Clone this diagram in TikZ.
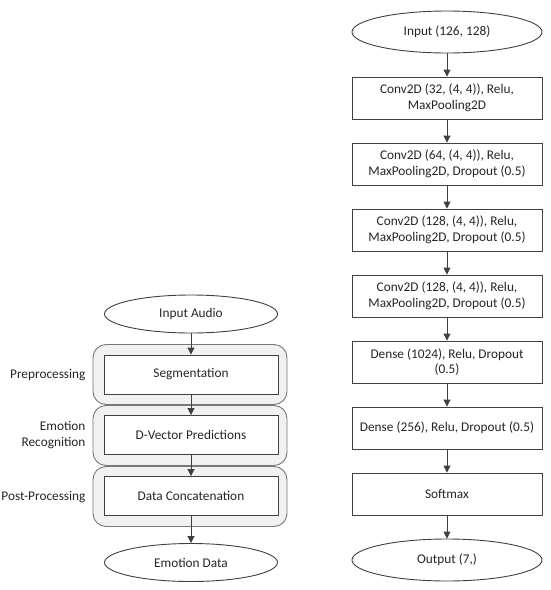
\documentclass[tikz,border=0pt]{standalone}
\usepackage{fontspec}
\setmainfont{Carlito}
\usetikzlibrary{positioning,arrows.meta,shapes.geometric}
\definecolor{linegray}{HTML}{404040}
\definecolor{groupgray}{HTML}{F1F1F1}
\definecolor{groupline}{HTML}{787878}
\tikzset{
  flowarrow/.style={-{Triangle[length=7pt,width=7pt]}, line width=0.9pt, linegray},
  layerbox/.style={draw=linegray, line width=0.9pt, fill=white, minimum width=190pt, minimum height=42pt, align=center, inner sep=2pt},
  layerellipse/.style={draw=linegray, line width=0.9pt, fill=white, ellipse, minimum width=190pt, minimum height=42pt, inner sep=0pt},
  stagebox/.style={draw=linegray, line width=0.9pt, fill=white, minimum width=174pt, minimum height=39pt, align=center},
  stageellipse/.style={draw=linegray, line width=0.9pt, fill=white, ellipse, minimum width=173pt, minimum height=38pt, inner sep=0pt},
  groupbox/.style={draw=groupline, line width=0.9pt, fill=groupgray, rounded corners=13pt, minimum width=194pt, minimum height=60pt},
  stagelabel/.style={anchor=east, align=right}
}

\begin{document}
\begin{tikzpicture}[x=1pt, y=-1pt, every node/.style={font=\fontsize{13.3}{15.5}\selectfont, text=black!85}]
      \useasboundingbox (0,0) rectangle (550,590);
      % left: processing pipeline
      \node[groupbox] (g1) at (190,374.5) {};
      \node[groupbox] (g2) at (190,435.5) {};
      \node[groupbox] (g3) at (190,496.5) {};
      \node[stageellipse] (audio) at (191,314) {Input Audio};
      \node[stagebox] (seg) at (191,374.5) {Segmentation};
      \node[stagebox] (dvec) at (191,435) {D-Vector Predictions};
      \node[stagebox] (concat) at (191,496) {Data Concatenation};
      \node[stageellipse] (emo) at (191,562.5) {Emotion Data};
      \node[stagelabel] (l1) at (89,375) {Preprocessing};
      \node[stagelabel] (l2) at (89,435) {Emotion\\Recognition};
      \node[stagelabel] (l3) at (89,497) {Post-Processing};
      \draw[flowarrow] (audio) -- (seg);
      \draw[flowarrow] (seg) -- (dvec);
      \draw[flowarrow] (dvec) -- (concat);
      \draw[flowarrow] (concat) -- (emo);
      % right: network layers
      \node[layerellipse] (in) at (447,32) {Input (126, 128)};
      \node[layerbox] (c1) at (447,98) {Conv2D (32, (4, 4)), Relu,\\MaxPooling2D};
      \node[layerbox] (c2) at (447,164) {Conv2D (64, (4, 4)), Relu,\\MaxPooling2D, Dropout (0.5)};
      \node[layerbox] (c3) at (447,230) {Conv2D (128, (4, 4)), Relu,\\MaxPooling2D, Dropout (0.5)};
      \node[layerbox] (c4) at (447,296) {Conv2D (128, (4, 4)), Relu,\\MaxPooling2D, Dropout (0.5)};
      \node[layerbox] (d1) at (447,362) {Dense (1024), Relu, Dropout\\(0.5)};
      \node[layerbox] (d2) at (447,428) {Dense (256), Relu, Dropout (0.5)};
      \node[layerbox] (sm) at (447,494) {Softmax};
      \node[layerellipse] (out) at (447,560) {Output (7,)};
      \draw[flowarrow] (in) -- (c1);
      \draw[flowarrow] (c1) -- (c2);
      \draw[flowarrow] (c2) -- (c3);
      \draw[flowarrow] (c3) -- (c4);
      \draw[flowarrow] (c4) -- (d1);
      \draw[flowarrow] (d1) -- (d2);
      \draw[flowarrow] (d2) -- (sm);
      \draw[flowarrow] (sm) -- (out);
    \end{tikzpicture}
\end{document}
